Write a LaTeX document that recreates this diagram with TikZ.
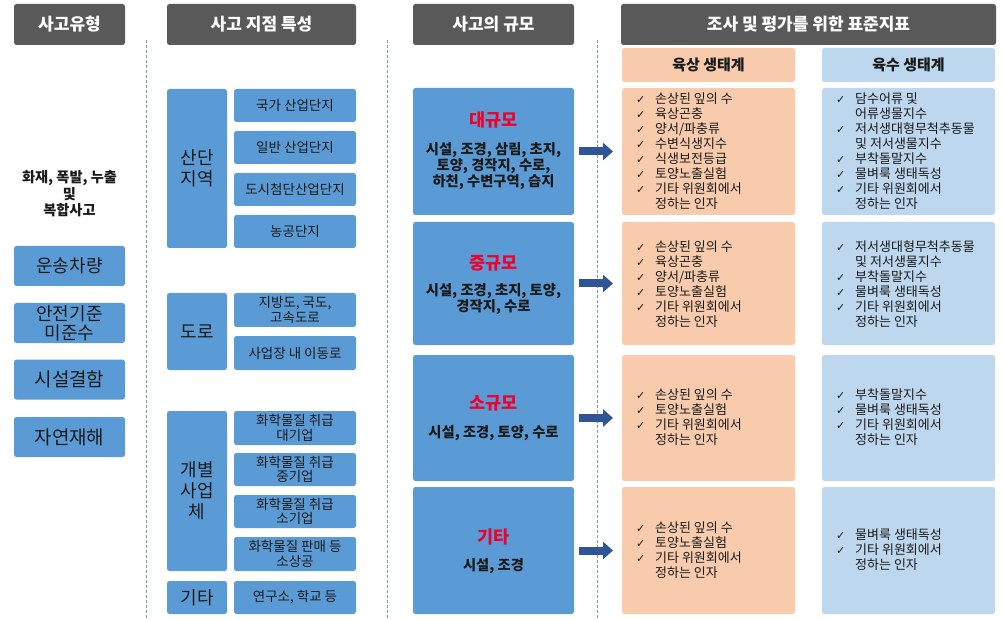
\documentclass[tikz,border=0pt]{standalone}
\usepackage{fontspec}
\setmainfont{Noto Sans CJK KR}
\newfontfamily\djv{DejaVu Sans}
\usetikzlibrary{arrows.meta}
\definecolor{hdrgray}{HTML}{595959}
\definecolor{boxblue}{HTML}{5B9BD5}
\definecolor{orng}{HTML}{F8CBAD}
\definecolor{ltblue}{HTML}{BDD7EE}
\definecolor{arrblue}{HTML}{2F5597}
\definecolor{dashc}{HTML}{7F95B5}
\definecolor{redt}{HTML}{F0002A}
\definecolor{txt}{HTML}{1A1A1A}
\newcommand\fs[2]{\fontsize{#1}{#2}\selectfont}
\newcommand\ck{\makebox[19pt][l]{\djv\fontsize{11}{11}\selectfont ✓}}
\newcommand\nk{\makebox[19pt][l]{}}
\begin{document}
\begin{tikzpicture}[x=1pt,y=-1pt,
  base/.style={inner sep=0pt,outer sep=0pt,rounded corners=2.5pt,align=center},
  hdr/.style={base,fill=hdrgray,text=white,font=\fs{17}{20}\bfseries,minimum height=41pt},
  sub/.style={base,text=txt,font=\fs{15}{18}\bfseries,minimum height=34pt,minimum width=173pt},
  cbox/.style={base,fill=boxblue,text=txt},
  lbox/.style={cbox,minimum width=111pt,minimum height=40pt},
  gbox/.style={cbox,minimum width=60pt,font=\fs{18}{20.5}},
  sbox/.style={cbox,minimum width=122pt,minimum height=33pt,font=\fs{13.5}{14.5}},
  mbox/.style={cbox,minimum width=161pt},
  obox/.style={base,fill=orng,minimum width=173pt},
  bbox/.style={base,fill=ltblue,minimum width=173pt},
  ttl/.style={inner sep=0pt,text=redt,font=\fs{17.5}{20}\bfseries},
  body/.style={inner sep=0pt,align=center,text=txt,font=\fs{14.3}{16}\bfseries},
  lst/.style={inner sep=0pt,anchor=west,align=left,text=txt,font=\fs{13}{15}},
  dashl/.style={draw=dashc,line width=0.8pt,dash pattern=on 3pt off 2pt},
  arr/.style={draw=arrblue,line width=8pt,-{Triangle[length=10pt,width=17pt]},shorten <=5pt,shorten >=9pt}
]
\useasboundingbox (0,0) rectangle (1004,620);

% dashed separators
\draw[dashl] (146,40) -- (146,620);
\draw[dashl] (387,40) -- (387,620);
\draw[dashl] (597,40) -- (597,620);

% headers
\node[hdr,minimum width=111pt] (h1) at (69.5,24.5) {사고유형};
\node[hdr,minimum width=189pt] (h2) at (261.5,24.5) {사고 지점 특성};
\node[hdr,minimum width=161pt] (h3) at (493.5,24.5) {사고의 규모};
\node[hdr,minimum width=375pt] (h4) at (808.5,24.5) {조사 및 평가를 위한 표준지표};
\node[sub,fill=orng] (s1) at (708.5,65) {육상 생태계};
\node[sub,fill=ltblue] (s2) at (908.5,65) {육수 생태계};

% column 1
\node[inner sep=0pt,align=center,text=txt,font=\fs{14.2}{16.5}\bfseries] (cause) at (69.5,194) {화재, 폭발, 누출\\및\\복합사고};
\node[lbox,font=\fs{18}{20}] (c1) at (69.5,266) {운송차량};
\node[lbox,font=\fs{18}{19}] (c2) at (69.5,323) {안전기준\\미준수};
\node[lbox,font=\fs{19}{21}] (c3) at (69.5,379.5) {시설결함};
\node[lbox,font=\fs{19}{21}] (c4) at (69.5,437) {자연재해};

% column 2
\node[gbox,minimum height=159pt] (g1) at (197,168.5) {산단\\지역};
\node[sbox] (a1) at (295,105.5) {국가 산업단지};
\node[sbox] (a2) at (295,147.5) {일반 산업단지};
\node[sbox] (a3) at (295,189.5) {도시첨단산업단지};
\node[sbox] (a4) at (295,231.5) {농공단지};

\node[gbox,minimum height=77pt] (g2) at (197,331.5) {도로};
\node[sbox,minimum height=34pt] (b1) at (295,310) {지방도, 국도,\\고속도로};
\node[sbox,minimum height=34pt] (b2) at (295,353) {사업장 내 이동로};

\node[gbox,minimum height=160pt,font=\fs{18}{21}] (g3) at (197,491) {개별\\사업\\체};
\node[sbox,minimum height=34pt] (d1) at (295,428) {화학물질 취급\\대기업};
\node[sbox] (d2) at (295,469.5) {화학물질 취급\\중기업};
\node[sbox] (d3) at (295,511.5) {화학물질 취급\\소기업};
\node[sbox,minimum height=34pt] (d4) at (295,554) {화학물질 판매 등\\소상공};

\node[gbox,minimum height=33pt] (g4) at (197,597.5) {기타};
\node[sbox] (e1) at (295,597.5) {연구소, 학교 등};

% column 3
\node[mbox,minimum height=127pt] (m1) at (493.5,151.5) {};
\node[mbox,minimum height=123pt] (m2) at (493.5,283.5) {};
\node[mbox,minimum height=126pt] (m3) at (493.5,418) {};
\node[mbox,minimum height=127pt] (m4) at (493.5,550.5) {};
\node[ttl] (m1t) at (493.5,120) {대규모};
\node[body] (m1b) at (493.5,166.5) {시설, 조경, 삼림, 초지,\\토양, 경작지, 수로,\\하천, 수변구역, 습지};
\node[ttl] (m2t) at (493.5,263) {중규모};
\node[body] (m2b) at (493.5,299) {시설, 조경, 초지, 토양,\\경작지, 수로};
\node[ttl] (m3t) at (493.5,403.3) {소규모};
\node[body] (m3b) at (493.5,432.7) {시설, 조경, 토양, 수로};
\node[ttl] (m4t) at (493.5,536.7) {기타};
\node[body] (m4b) at (493.5,566) {시설, 조경};

% column 4
\node[obox,minimum height=127pt] (o1) at (708.5,151.5) {};
\node[obox,minimum height=123pt] (o2) at (708.5,283.5) {};
\node[obox,minimum height=126pt] (o3) at (708.5,418) {};
\node[obox,minimum height=127pt] (o4) at (708.5,550.5) {};
\node[bbox,minimum height=127pt] (w1) at (908.5,151.5) {};
\node[bbox,minimum height=123pt] (w2) at (908.5,283.5) {};
\node[bbox,minimum height=126pt] (w3) at (908.5,418) {};
\node[bbox,minimum height=127pt] (w4) at (908.5,550.5) {};

\node[lst] (o1t) at (636,151) {\ck 손상된 잎의 수\\\ck 육상곤충\\\ck 양서/파충류\\\ck 수변식생지수\\\ck 식생보전등급\\\ck 토양노출실험\\\ck 기타 위원회에서\\\nk 정하는 인자};
\node[lst] (o2t) at (636,284.5) {\ck 손상된 잎의 수\\\ck 육상곤충\\\ck 양서/파충류\\\ck 토양노출실험\\\ck 기타 위원회에서\\\nk 정하는 인자};
\node[lst] (o3t) at (636,417.5) {\ck 손상된 잎의 수\\\ck 토양노출실험\\\ck 기타 위원회에서\\\nk 정하는 인자};
\node[lst] (o4t) at (636,550) {\ck 손상된 잎의 수\\\ck 토양노출실험\\\ck 기타 위원회에서\\\nk 정하는 인자};

\node[lst] (w1t) at (836,151) {\ck 담수어류 및\\\nk 어류생물지수\\\ck 저서생대형무척추동물\\\nk 및 저서생물지수\\\ck 부착돌말지수\\\ck 물벼룩 생태독성\\\ck 기타 위원회에서\\\nk 정하는 인자};
\node[lst] (w2t) at (836,284.5) {\ck 저서생대형무척추동물\\\nk 및 저서생물지수\\\ck 부착돌말지수\\\ck 물벼룩 생태독성\\\ck 기타 위원회에서\\\nk 정하는 인자};
\node[lst] (w3t) at (836,417.5) {\ck 부착돌말지수\\\ck 물벼룩 생태독성\\\ck 기타 위원회에서\\\nk 정하는 인자};
\node[lst] (w4t) at (836,550) {\ck 물벼룩 생태독성\\\ck 기타 위원회에서\\\nk 정하는 인자};

% arrows
\draw[arr] (m1.east) -- (o1.west);
\draw[arr] (m2.east) -- (o2.west);
\draw[arr] (m3.east) -- (o3.west);
\draw[arr] (m4.east) -- (o4.west);
\end{tikzpicture}
\end{document}
